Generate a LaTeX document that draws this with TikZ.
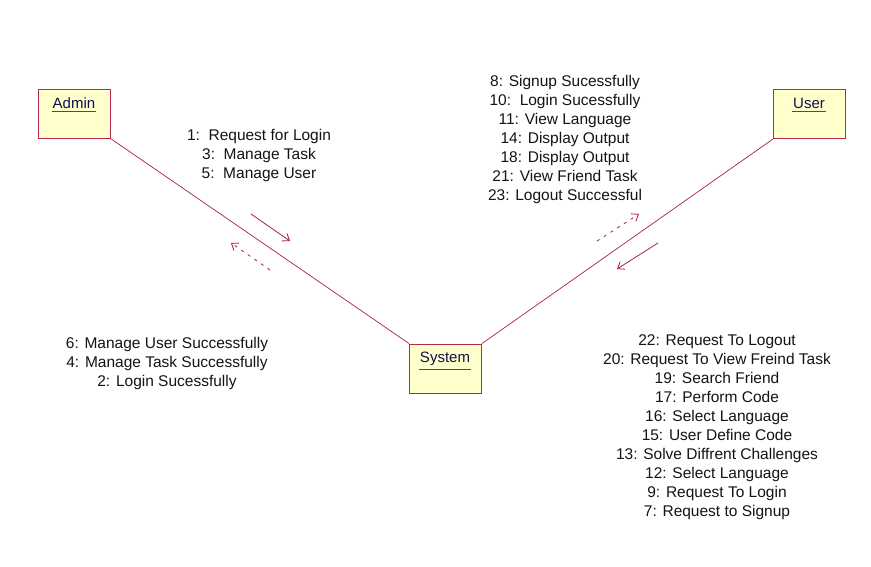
\documentclass[tikz,border=0pt]{standalone}
\usepackage{fontspec}
\setmainfont{Liberation Sans}
\usetikzlibrary{arrows.meta}
\definecolor{lnk}{RGB}{170,30,80}
\definecolor{boxfill}{RGB}{255,255,204}
\definecolor{boxdraw}{RGB}{180,40,80}
\definecolor{txt}{RGB}{20,20,20}
\tikzset{
  obj/.style={draw=boxdraw, line width=0.9pt, fill=boxfill, minimum width=72pt, minimum height=49pt, inner sep=0pt},
  objlbl/.style={font=\fontsize{15}{17}\selectfont, text=txt!75!blue, inner sep=1pt},
  msg/.style={font=\fontsize{15.5}{19}\selectfont, text=txt, align=center, inner sep=0pt},
  link/.style={draw=lnk, line width=0.7pt},
  solidarr/.style={draw=lnk, line width=0.8pt, -{Straight Barb[length=6pt,width=9pt]}},
  dasharr/.style={draw=lnk, line width=0.8pt, dash pattern=on 3pt off 5pt, -{Straight Barb[length=6pt,width=9pt]}}
}
\begin{document}
\begin{tikzpicture}[x=1pt,y=-1pt]
\useasboundingbox (0,0) rectangle (871,566);
\fill[white] (0,0) rectangle (871,566);
% objects
\node[obj] (admin) at (74,113.5) {};
\node[obj] (user) at (809.5,114) {};
\node[obj] (system) at (445.5,368.5) {};
\node[objlbl] (adminl) at (74,103) {Admin};
\node[objlbl] (userl) at (809,103) {User};
\node[objlbl] (systeml) at (445,359) {System};
\foreach \n in {adminl,userl,systeml}{
  \draw[lnk, line width=0.9pt] ([yshift=-2pt]\n.south west) -- ([yshift=-2pt]\n.south east);
}
% links
\draw[link] (admin.south east) -- (system.north west);
\draw[link] (user.south west) -- (system.north east);
% message arrows
\coordinate (a1s) at (251,214); \coordinate (a1e) at (290,241);
\coordinate (a2s) at (270,270); \coordinate (a2e) at (231,243);
\coordinate (a3s) at (597,241); \coordinate (a3e) at (639,214);
\coordinate (a4s) at (658,243); \coordinate (a4e) at (617,269);
\draw[solidarr] (a1s) -- (a1e);
\draw[dasharr] (a2s) -- (a2e);
\draw[dasharr] (a3s) -- (a3e);
\draw[solidarr] (a4s) -- (a4e);
% messages
\node[msg] (m1) at (259,155) {1:\ \ Request for Login\\3:\ \ Manage Task\\5:\ \ Manage User};
\node[msg] (m2) at (565,139.5) {8: Signup Sucessfully\\10:\ \ Login Sucessfully\\11: View Language\\14: Display Output\\18: Display Output\\21: View Friend Task\\23: Logout Successful};
\node[msg] (m3) at (167,363.5) {6: Manage User Successfully\\4: Manage Task Successfully\\2: Login Sucessfully};
\node[msg] (m4) at (717,427) {22: Request To Logout\\20: Request To View Freind Task\\19: Search Friend\\17: Perform Code\\16: Select Language\\15: User Define Code\\13: Solve Diffrent Challenges\\12: Select Language\\9: Request To Login\\7: Request to Signup};
\end{tikzpicture}
\end{document}
